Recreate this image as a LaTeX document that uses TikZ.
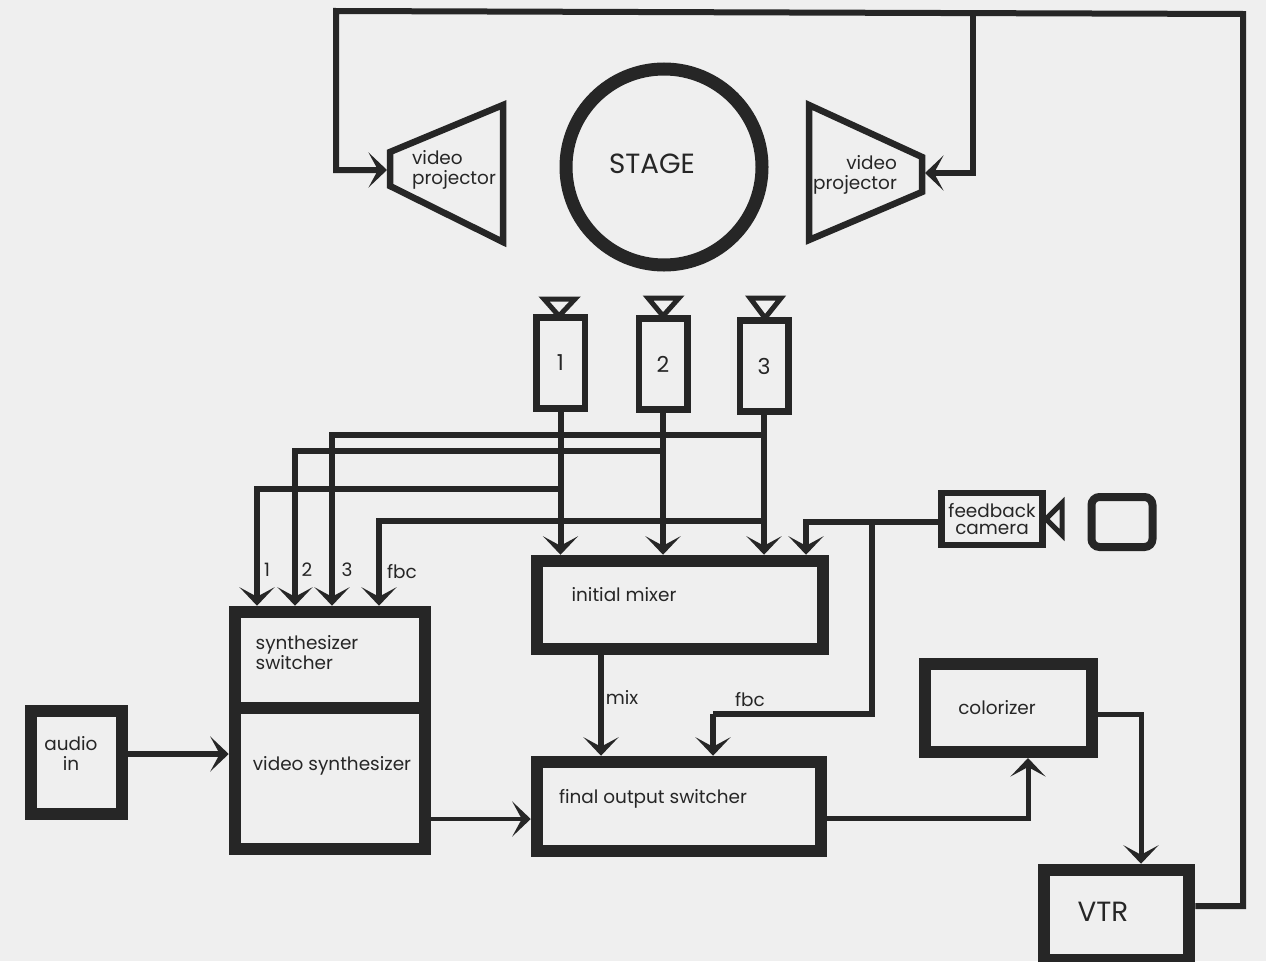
\documentclass[tikz,border=0pt]{standalone}
\usepackage{fontspec}
\usepackage{xcolor}
\usepackage{tikz}
\usetikzlibrary{arrows.meta}
\setmainfont{Poppins}
\definecolor{paper}{HTML}{EFEFEF}
\definecolor{ink}{HTML}{262626}
\tikzset{
    wire/.style={ink, line width=1.2mm, -{Stealth[length=3.7mm, width=7mm, inset=1.9mm]}},
    thinwire/.style={ink, line width=1mm, -{Stealth[length=3.7mm, width=7mm, inset=1.9mm]}},
    plain/.style={ink, line width=1.2mm},
    heavybox/.style={draw=ink, line width=2.5mm, minimum width=#1},
    thinbox/.style={draw=ink, line width=1.3mm, minimum width=#1},
    shell/.style={ink, line width=1.3mm, line join=miter},
    txt/.style={text=ink, font=\fontsize{10.5}{11.4}\selectfont, inner sep=0pt},
    numtxt/.style={text=ink, font=\fontsize{12.5}{14}\selectfont, inner sep=0pt},
    bigtxt/.style={text=ink, font=\fontsize{15.8}{18}\selectfont, inner sep=0pt},
}

\begin{document}
\begin{tikzpicture}[x=0.2mm, y=-0.2mm]
        \useasboundingbox (0, 0) rectangle (1266, 961);
        \fill[paper] (0, 0) rectangle (1266, 961);

        \coordinate (TopL) at (336, 11);
        \coordinate (TopM) at (973, 13);
        \coordinate (TopR) at (1243, 14);
        \coordinate (ProjLIn) at (387, 170);
        \coordinate (ProjRIn) at (925, 173);
        \coordinate (Bend3) at (332, 0);
        \coordinate (Bend2) at (295, 0);
        \coordinate (Bend1) at (257, 0);
        \coordinate (BendF) at (379, 0);
        \coordinate (FbTap) at (806, 522);
        \coordinate (FbDown) at (872, 522);
        \coordinate (FbIn) at (713, 714);
        \coordinate (MixOut) at (601, 0);
        \coordinate (AudioOut) at (0, 754);
        \coordinate (SynthOut) at (0, 819);
        \coordinate (FinalOut) at (0, 818);
        \coordinate (ColIn) at (1028, 0);
        \coordinate (ColOut) at (0, 714);
        \coordinate (VtrIn) at (1141, 0);
        \coordinate (VtrOut) at (0, 906);

        % stage and projectors
        \node[circle, draw=ink, line width=2.6mm, minimum size=39.2mm] (Stage) at (664, 167) {};
        \node[bigtxt] (StageLabel) at (652, 164) {STAGE};
        \draw[shell] (390, 152) -- (503, 105) -- (503, 242) -- (390, 186) -- cycle;
        \draw[shell] (809, 105) -- (922, 157) -- (922, 192) -- (809, 240) -- cycle;
        \node[txt, align=left] (ProjLLabel) at (454, 170) {video\\projector};
        \node[txt, align=right] (ProjRLabel) at (855, 175) {video\\projector};

        % cameras
        \node[thinbox=9.7mm, minimum height=18.2mm, numtxt] (Cam1) at (560.5, 363) {1};
        \node[thinbox=9.7mm, minimum height=18.2mm, numtxt] (Cam2) at (663, 364) {2};
        \node[thinbox=9.7mm, minimum height=18.2mm, numtxt] (Cam3) at (764, 366) {3};
        \draw[shell, line width=1mm] (544, 299) -- (575, 299) -- (559, 316) -- cycle;
        \draw[shell, line width=1mm] (648, 298) -- (679, 298) -- (663, 316) -- cycle;
        \draw[shell, line width=1mm] (750, 298) -- (781, 298) -- (765, 318) -- cycle;

        \node[thinbox=20.2mm, minimum height=10.4mm, txt, align=center] (FeedCam) at (992, 519) {feedback\\[-2pt]camera};
        \draw[shell, line width=1mm] (1046, 519) -- (1062, 503) -- (1062, 535) -- cycle;
        \node[draw=ink, line width=1.6mm, rounded corners=1.6mm, minimum width=12.2mm, minimum height=10mm] (Monitor) at (1122, 522) {};

        % processing boxes
        \node[heavybox=38mm, minimum height=19.2mm] (Switcher) at (330, 660) {};
        \node[heavybox=38mm, minimum height=28.2mm] (Synth) at (330, 778.5) {};
        \node[heavybox=18.2mm, minimum height=20.6mm, line width=2.4mm] (Audio) at (76.5, 762.5) {};
        \node[heavybox=57.2mm, minimum height=17.6mm] (Mixer) at (680, 605) {};
        \node[heavybox=56.8mm, minimum height=17.8mm] (Final) at (679, 806.5) {};
        \node[heavybox=33.4mm, minimum height=17.6mm, line width=2.4mm] (Colorizer) at (1008.5, 708) {};
        \node[heavybox=29mm, minimum height=18mm] (Vtr) at (1116.5, 915) {};

        \node[txt, align=left] (SwitcherLabel) at (307, 653) {synthesizer\\switcher};
        \node[txt] (SynthLabel) at (332, 766) {video synthesizer};
        \node[txt, align=center] (AudioLabel) at (71, 753) {audio\\in};
        \node[txt] (MixerLabel) at (624, 595) {initial mixer};
        \node[txt] (FinalLabel) at (653, 799) {final output switcher};
        \node[txt] (ColorizerLabel) at (997, 708) {colorizer};
        \node[bigtxt] (VtrLabel) at (1103, 912) {VTR};

        % camera feeds
        \draw[wire] (Cam1.south) -- (Cam1.south |- Mixer.north);
        \draw[wire] (Cam2.south) -- (Cam2.south |- Mixer.north);
        \draw[wire] (Cam3.south) -- (Cam3.south |- Mixer.north);
        \draw[wire] (FeedCam.west |- FbTap) -- (FbTap) -- (FbTap |- Mixer.north);
        \draw[wire] (Cam3.south |- 0, 435) -| (Bend3 |- Switcher.north);
        \draw[wire] (Cam2.south |- 0, 451) -| (Bend2 |- Switcher.north);
        \draw[wire] (Cam1.south |- 0, 489) -| (Bend1 |- Switcher.north);
        \draw[wire] (Cam3.south |- 0, 521) -| (BendF |- Switcher.north);
        \node[txt] (In1) at (267, 570) {1};
        \node[txt] (In2) at (307, 570) {2};
        \node[txt] (In3) at (347, 570) {3};
        \node[txt] (InF) at (402, 572) {fbc};

        % outputs
        \draw[plain] (FbDown) -- (FbDown |- FbIn) -- (FbIn);
        \draw[wire] (FbIn) -- (FbIn |- Final.north);
        \draw[wire] (MixOut |- Mixer.south) -- (MixOut |- Final.north);
        \node[txt] (MixText) at (622, 697) {mix};
        \node[txt] (FbcText) at (750, 700) {fbc};
        \draw[wire] (AudioOut -| Audio.east) -- (AudioOut -| Synth.west);
        \draw[thinwire, line width=0.8mm] (SynthOut -| Synth.east) -- (SynthOut -| Final.west);
        \draw[thinwire] (FinalOut -| Final.east) -| (ColIn |- Colorizer.south);
        \draw[thinwire] (ColOut -| Colorizer.east) -| (VtrIn |- Vtr.north);
        \draw[wire] (VtrOut -| Vtr.east) -- (VtrOut -| TopR) -- (TopR) -- (TopL) -- (TopL |- ProjLIn) -- (ProjLIn);
        \draw[wire] (TopM) -- (TopM |- ProjRIn) -- (ProjRIn);

\end{tikzpicture}
\end{document}
